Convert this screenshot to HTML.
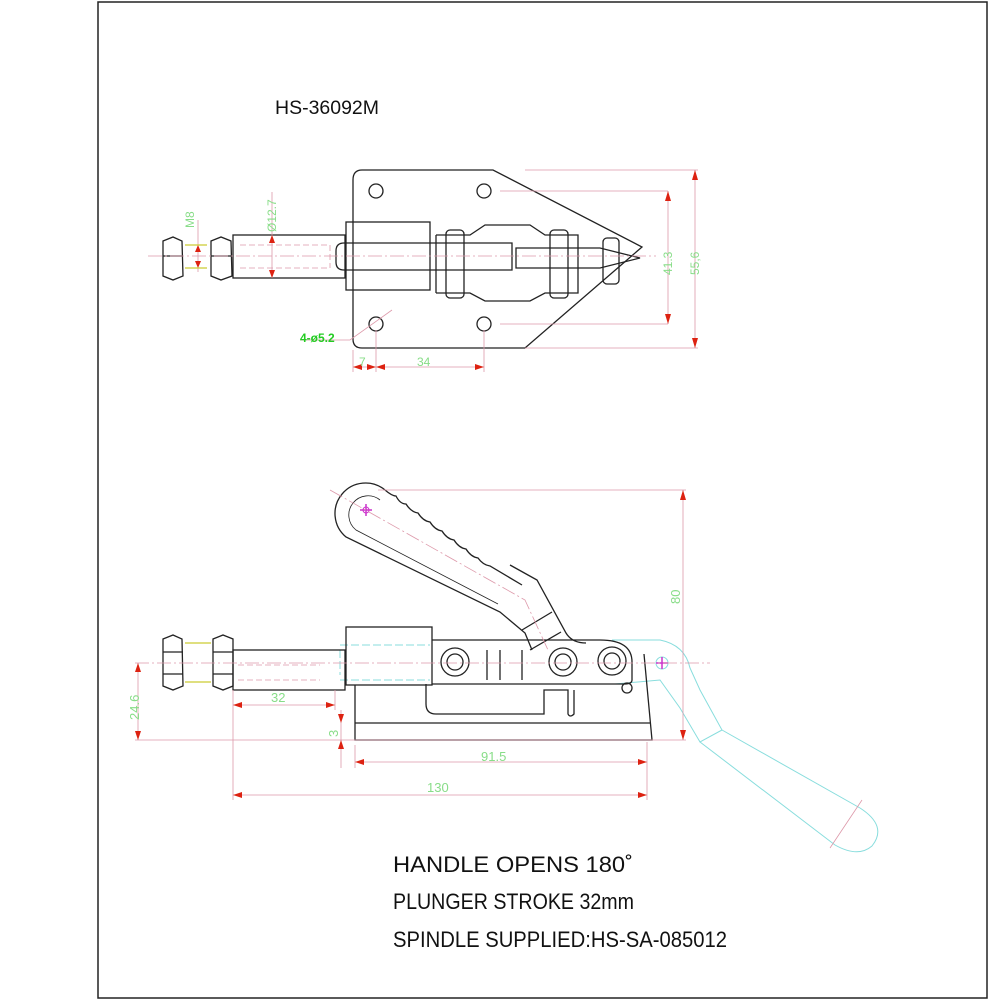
<!DOCTYPE html>
<html><head><meta charset="utf-8"><style>html,body{margin:0;padding:0;background:#fff}svg{display:block}</style></head>
<body>
<svg width="1000" height="1000" viewBox="0 0 1000 1000" xmlns="http://www.w3.org/2000/svg" font-family="Liberation Sans, sans-serif">
<rect x="98" y="2" width="889" height="996" fill="none" stroke="#222" stroke-width="1.5"/>
<text x="275" y="114" font-size="19" fill="#111" textLength="104" lengthAdjust="spacingAndGlyphs">HS-36092M</text>

<!-- TOP VIEW -->
<g fill="none" stroke="#222" stroke-width="1.3">
<path d="M362,170 L493,170 L642,247 L525,348 L362,348 Q353,348 353,339 L353,180 Q353,170 362,170 Z"/>
<circle cx="376" cy="191" r="7"/><circle cx="484" cy="191" r="7"/>
<circle cx="376" cy="324" r="7"/><circle cx="484" cy="324" r="7"/>
<path d="M163,241 L173,237 L182,241 L183,276 L173,280 L163,276 Z M163,256 L183,256"/>
<path d="M211,241 L221,237 L231,241 L232,276 L221,280 L211,276 Z M211,256 L232,256"/>
<rect x="233" y="235" width="112" height="43"/>
<rect x="346" y="222" width="84" height="68"/>
<path d="M336,251 Q336,243 344,243 L512,243 L512,270 L344,270 Q336,270 336,262 Z"/>
<path d="M436,235 L436,293 M436,235 L470,235 L485,225 L530,225 L545,235 L578,235 L578,293 L545,293 L530,301 L485,301 L470,293 L436,293"/>
<path d="M516,248 L600,248 L640,258 L600,268 L516,268 Z"/>
<rect x="446" y="230" width="18" height="68" rx="4"/>
<rect x="550" y="230" width="18" height="68" rx="4"/>
<rect x="603" y="238" width="16" height="46" rx="4"/>
</g>
<g stroke="#d9a" stroke-width="0.8" fill="none">
<path d="M148,256 L656,256" stroke-dasharray="14,3,2,3"/>
<path d="M240,245 L330,245 M240,268 L330,268 M330,245 L330,268" stroke-dasharray="6,3"/>
<path d="M500,191 L668,191 M500,324 L668,324 M525,170 L698,170 M525,348 L698,348 M668,191 L668,324 M695,170 L695,348"/>
<path d="M353,350 L353,372 M376,330 L376,372 M484,330 L484,372 M353,367 L484,367"/>
<path d="M272,192 L272,278 M198,220 L198,272"/>
<path d="M300,340 L350,340 L392,310"/>
</g>
<g fill="#d21">
<path d="M668,191 l-3,10 l6,0 Z M668,324 l-3,-10 l6,0 Z M695,170 l-3,10 l6,0 Z M695,348 l-3,-10 l6,0 Z"/>
<path d="M272,235 l-3,8 l6,0Z M272,278 l-3,-8 l6,0Z M198,245 l-3,7 l6,0Z M198,268 l-3,-7 l6,0Z"/>
<path d="M353,367 l9,-3 l0,6Z M376,367 l-9,-3 l0,6Z M376,367 l9,-3 l0,6Z M484,367 l-9,-3 l0,6Z"/>
</g>
<path d="M185,245 L207,245 M185,268 L207,268" stroke="#cc3" stroke-width="1.2"/>
<g fill="#8d8" font-size="12">
<text transform="translate(194,228) rotate(-90)">M8</text>
<text transform="translate(276,232) rotate(-90)">Ø12.7</text>
<text transform="translate(672,275) rotate(-90)">41.3</text>
<text transform="translate(699,275) rotate(-90)">55,6</text>
<text x="359" y="366">7</text>
<text x="417" y="366">34</text>
</g>
<text x="300" y="342" font-size="12" fill="#2c2" font-weight="bold">4-ø5.2</text>

<!-- SIDE VIEW -->
<g fill="none" stroke="#8dd" stroke-width="1">
<path d="M612,640 L660,640 Q685,645 690,668 L700,690 L722,730 L700,742 L680,708 L660,680 L615,684"/>
<path d="M722,730 L860,808 Q888,826 872,846 Q858,858 835,845 L700,742"/>
<path d="M340,645 L430,645 M340,680 L430,680 M340,650 L340,675" stroke-dasharray="8,3"/>
<circle cx="662" cy="663" r="6"/>
</g>
<g fill="none" stroke="#222" stroke-width="1.3">
<path d="M385,490 A28,28 0 0 0 346,537 L500,612 L525,633 L532,650"/>
<path d="M385,490 Q392,496 396,496 Q400,504 406,504 Q411,512 418,513 Q423,521 430,522 Q435,530 442,531 Q447,539 454,540 Q459,548 466,549 Q471,557 478,558 Q483,565 490,566 L522,585"/>
<path d="M380,500 A16,16 0 0 0 356,530 L498,604" stroke-width="0.8"/>
<path d="M510,565 L537,580 L566,633 Q572,643 586,643"/>
<path d="M522,630 L552,612 M530,650 L561,632"/>
<path d="M163,639 L173,635 L182,639 L183,686 L173,690 L163,686 Z M163,652 L183,652 M163,674 L183,674"/>
<path d="M213,639 L223,635 L233,639 L233,686 L223,690 L213,686 Z M213,652 L233,652 M213,674 L233,674"/>
<rect x="233" y="650" width="112" height="40"/>
<rect x="346" y="627" width="86" height="58"/>
<path d="M432,640 L600,640 Q632,640 632,662 L632,680 Q632,684 624,684 L432,684"/>
<circle cx="455" cy="662" r="14"/><circle cx="455" cy="662" r="8"/>
<circle cx="563" cy="662" r="14"/><circle cx="563" cy="662" r="8"/>
<circle cx="612" cy="661" r="14"/><circle cx="612" cy="661" r="8"/>
<circle cx="627" cy="688" r="5"/>
<path d="M426,684 L426,704 Q426,714 436,714 L544,714 L544,690 L568,690 L568,714 Q570,718 574,714 L574,690"/>
<path d="M355,685 L355,740 L652,740 L644,654 M355,723 L650,723"/>
<path d="M487,650 L487,680 M500,650 L500,680 M522,650 L522,680"/>
</g>
<path d="M185,643 L211,643 M185,682 L211,682" stroke="#cc3" stroke-width="1.2"/>
<circle cx="366" cy="510" r="3" fill="none" stroke="#c3c"/>
<path d="M360,510 L372,510 M366,504 L366,516 M656,663 L668,663 M662,657 L662,669" stroke="#c3c" stroke-width="1.5"/>
<g stroke="#d9a" stroke-width="0.8" fill="none">
<path d="M135,663 L710,663" stroke-dasharray="14,3,2,3"/>
<path d="M330,490 L525,600 L548,650" stroke-dasharray="14,3,2,3"/>
<path d="M378,490 L686,490 M683,490 L683,740 M135,740 L686,740 M138,663 L138,740"/>
<path d="M233,690 L233,800 M233,705 L335,705 M335,690 L335,710 M341,710 L341,768 M355,745 L355,768 M355,762 L647,762 M233,795 L647,795 M647,742 L647,800"/>
<path d="M238,665 L320,665 M238,680 L320,680" stroke-dasharray="6,3"/>
<path d="M830,848 L862,800"/>
</g>
<g fill="#d21">
<path d="M683,490 l-3,10 l6,0Z M683,740 l-3,-10 l6,0Z M138,663 l-3,9 l6,0Z M138,740 l-3,-9 l6,0Z"/>
<path d="M233,705 l9,-3 l0,6Z M335,705 l-9,-3 l0,6Z M355,762 l9,-3 l0,6Z M647,762 l-9,-3 l0,6Z M233,795 l9,-3 l0,6Z M647,795 l-9,-3 l0,6Z M341,723 l-3,-9 l6,0Z M341,740 l-3,9 l6,0Z"/>
</g>
<g fill="#8d8" font-size="13">
<text transform="translate(680,604) rotate(-90)">80</text>
<text transform="translate(139,720) rotate(-90)">24.6</text>
<text transform="translate(338,737) rotate(-90)">3</text>
<text x="271" y="702">32</text>
<text x="481" y="761">91.5</text>
<text x="427" y="792">130</text>
</g>

<g fill="#111" font-size="22">
<text x="393" y="872" textLength="240" lengthAdjust="spacingAndGlyphs">HANDLE OPENS 180˚</text>
<text x="393" y="909" textLength="241" lengthAdjust="spacingAndGlyphs">PLUNGER STROKE 32mm</text>
<text x="393" y="947" textLength="334" lengthAdjust="spacingAndGlyphs">SPINDLE SUPPLIED:HS-SA-085012</text>
</g>
</svg>
</body></html>
